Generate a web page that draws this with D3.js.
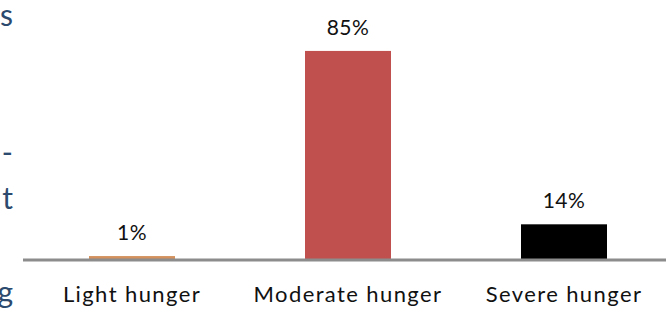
<!DOCTYPE html>
<html><head><meta charset="utf-8">
<script src="https://cdn.jsdelivr.net/npm/d3@7"></script>
<style>html,body{margin:0;padding:0;background:#fff;overflow:hidden}</style>
</head><body>
<svg id="chart" width="666" height="312"></svg>
<script>
const categories = ["Light hunger", "Moderate hunger", "Severe hunger"];
const values = [1, 85, 14];
const valueLabels = ["1%", "85%", "14%"];
const barColors = ["#d4915e", "#c0504d", "#000000"];
const sideFragments = ["s", "-", "t", "g"];

const svg = d3.select("#chart");
const x = d3.scaleBand().domain(categories).range([24, 672]).paddingInner(0.6).paddingOuter(0.3);
const y = d3.scaleLinear().domain([0, 100]).range([258.5, 14.3]);

svg.selectAll("rect.bar").data(values).join("rect")
  .attr("class", "bar")
  .attr("x", (d, i) => x(categories[i]) + x.bandwidth()/2 - 43)
  .attr("width", 86)
  .attr("y", d => y(d))
  .attr("height", d => y(0) - y(d) + 1)
  .attr("fill", (d, i) => barColors[i]);

svg.append("line").attr("x1", 23).attr("x2", 666).attr("y1", 260).attr("y2", 260)
  .attr("stroke", "#8c8c8c").attr("stroke-width", 3);

svg.selectAll("text.val").data(values).join("text")
  .attr("class", "val")
  .attr("x", (d, i) => x(categories[i]) + x.bandwidth()/2)
  .attr("y", d => y(d) - 16)
  .attr("text-anchor", "middle")
  .attr("font-family", "Lato, sans-serif").attr("font-size", 21).attr("fill", "#111")
  .attr("letter-spacing", 0.5)
  .text((d, i) => valueLabels[i]);

svg.selectAll("text.cat").data(categories).join("text")
  .attr("class", "cat")
  .attr("x", d => x(d) + x.bandwidth()/2)
  .attr("y", 302)
  .attr("text-anchor", "middle")
  .attr("font-family", "Lato, sans-serif").attr("font-size", 22).attr("fill", "#111")
  .attr("letter-spacing", 1.4)
  .text(d => d);

const fragY = [26, 163, 209, 303];
svg.selectAll("text.frag").data(sideFragments).join("text")
  .attr("class", "frag")
  .attr("x", 13).attr("y", (d, i) => fragY[i])
  .attr("text-anchor", "end")
  .attr("font-family", "Lato, sans-serif").attr("font-size", 30).attr("fill", "#2c4a6e")
  .text(d => d);
</script>
</body></html>
